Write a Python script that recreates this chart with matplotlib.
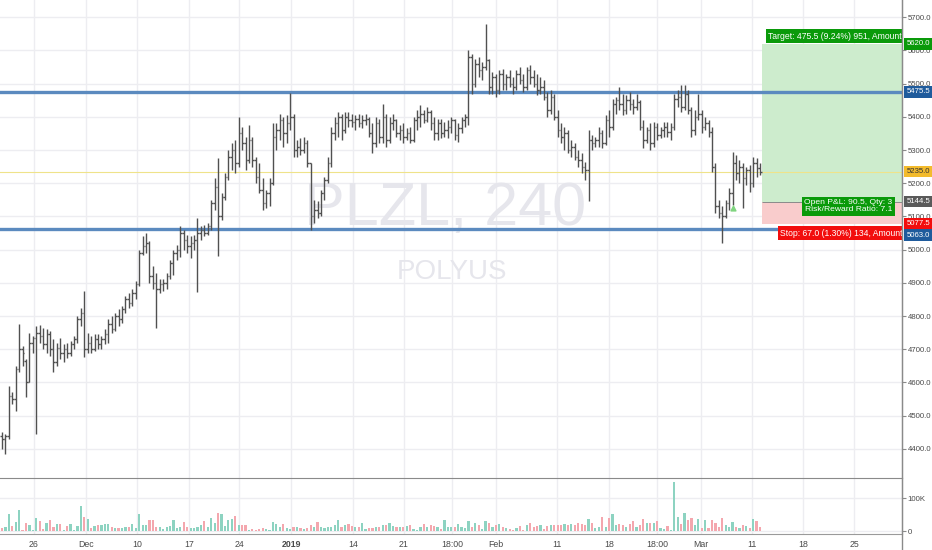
import matplotlib
matplotlib.use("Agg")
import matplotlib.pyplot as plt
import matplotlib.transforms as mtransforms
from matplotlib.patches import Rectangle
from matplotlib.lines import Line2D
import numpy as np

plt.rcParams['font.family'] = ['Liberation Sans', 'DejaVu Sans']

# PLZL 240 min bars
opens = [4440, 4430, 4440, 4560, 4550, 4640, 4700, 4665, 4600, 4720,
         4735, 4750, 4740, 4715, 4745, 4700, 4660, 4705, 4690, 4700,
         4690, 4715, 4730, 4790, 4810, 4700, 4720, 4700, 4730, 4715,
         4730, 4745, 4775, 4760, 4800, 4790, 4820, 4850, 4840, 4870,
         4895, 4990, 5010, 5020, 4920, 4900, 4880, 4895, 4900, 4920,
         4960, 4990, 5000, 5050, 5030, 5010, 5020, 5030, 5050, 5060,
         5050, 5070, 5140, 5190, 5100, 5160, 5220, 5280, 5300, 5260,
         5350, 5320, 5270, 5330, 5270, 5220, 5180, 5140, 5170, 5200,
         5340, 5360, 5390, 5350, 5380, 5400, 5300, 5310, 5300, 5320,
         5260, 5100, 5120, 5110, 5170, 5210, 5260, 5350, 5380, 5400,
         5360, 5400, 5390, 5385, 5395, 5380, 5390, 5395, 5350, 5320,
         5380, 5340, 5400, 5330, 5380, 5390, 5350, 5360, 5340, 5350,
         5330, 5390, 5400, 5410, 5390, 5415, 5380, 5350, 5380, 5350,
         5360, 5370, 5390, 5345, 5365, 5390, 5400, 5580, 5500, 5560,
         5540, 5550, 5570, 5490, 5520, 5480, 5530, 5500, 5520, 5500,
         5490, 5530, 5510, 5490, 5540, 5520, 5500, 5480, 5490, 5460,
         5420, 5460, 5400, 5360, 5340, 5350, 5300, 5310, 5280, 5270,
         5250, 5240, 5330, 5320, 5330, 5350, 5320, 5390, 5370, 5440,
         5450, 5440, 5420, 5450, 5440, 5430, 5445, 5370, 5330, 5360,
         5320, 5370, 5345, 5360, 5370, 5355, 5370, 5455, 5460, 5430,
         5470, 5420, 5360, 5400, 5410, 5370, 5380, 5355, 5250, 5130,
         5110, 5100, 5140, 5170, 5260, 5230, 5250, 5215, 5240, 5200,
         5260, 5245]
highs = [4450, 4445, 4590, 4570, 4650, 4775, 4710, 4670, 4750, 4740,
         4770, 4772, 4765, 4760, 4755, 4730, 4720, 4735, 4715, 4720,
         4725, 4740, 4800, 4825, 4875, 4750, 4740, 4745, 4745, 4740,
         4760, 4790, 4800, 4810, 4820, 4830, 4860, 4870, 4880, 4905,
         5000, 5040, 5050, 5025, 4950, 4930, 4910, 4910, 4930, 4970,
         5000, 5015, 5070, 5060, 5045, 5040, 5045, 5095, 5070, 5075,
         5080, 5150, 5215, 5276, 5170, 5230, 5300, 5320, 5330, 5400,
         5370, 5340, 5375, 5340, 5280, 5260, 5215, 5180, 5215, 5380,
         5380, 5410, 5400, 5405, 5472, 5410, 5330, 5335, 5340, 5330,
         5260, 5150, 5145, 5180, 5220, 5280, 5370, 5400, 5415, 5410,
         5415, 5415, 5410, 5405, 5410, 5405, 5410, 5400, 5380, 5400,
         5395, 5440, 5410, 5400, 5410, 5395, 5375, 5380, 5365, 5370,
         5400, 5420, 5435, 5420, 5430, 5420, 5400, 5395, 5395, 5385,
         5390, 5400, 5395, 5380, 5400, 5410, 5600, 5590, 5575, 5580,
         5565, 5680, 5575, 5535, 5530, 5540, 5545, 5530, 5540, 5520,
         5540, 5550, 5530, 5550, 5555, 5540, 5530, 5520, 5510, 5475,
         5480, 5470, 5420, 5380, 5370, 5360, 5330, 5320, 5300, 5290,
         5265, 5360, 5345, 5340, 5370, 5360, 5405, 5420, 5455, 5460,
         5490, 5470, 5465, 5475, 5455, 5470, 5450, 5390, 5370, 5380,
         5385, 5380, 5370, 5385, 5385, 5380, 5470, 5480, 5495, 5495,
         5480, 5430, 5420, 5470, 5420, 5400, 5390, 5370, 5260, 5150,
         5130, 5150, 5185, 5295, 5285, 5270, 5260, 5250, 5255, 5280,
         5275, 5260]
lows = [4400, 4385, 4430, 4535, 4515, 4630, 4650, 4555, 4600, 4690,
        4445, 4720, 4700, 4690, 4680, 4630, 4650, 4670, 4660, 4675,
        4680, 4700, 4720, 4770, 4676, 4690, 4690, 4695, 4700, 4700,
        4715, 4720, 4750, 4755, 4770, 4780, 4810, 4825, 4830, 4850,
        4890, 4985, 4990, 4900, 4880, 4765, 4870, 4875, 4880, 4910,
        4925, 4970, 4977, 5000, 4990, 4975, 5000, 4872, 5030, 5040,
        5045, 5060, 5120, 4980, 5090, 5150, 5210, 5240, 5230, 5250,
        5300, 5240, 5260, 5250, 5200, 5170, 5120, 5125, 5130, 5195,
        5300, 5330, 5310, 5320, 5360, 5280, 5280, 5285, 5290, 5250,
        5060, 5080, 5095, 5100, 5150, 5200, 5250, 5330, 5340, 5330,
        5350, 5370, 5370, 5360, 5370, 5365, 5375, 5340, 5290, 5310,
        5320, 5320, 5310, 5320, 5360, 5340, 5330, 5320, 5330, 5320,
        5325, 5360, 5370, 5380, 5385, 5360, 5330, 5330, 5335, 5340,
        5335, 5350, 5330, 5325, 5350, 5370, 5375, 5470, 5490, 5520,
        5510, 5540, 5470, 5470, 5460, 5470, 5480, 5480, 5490, 5470,
        5480, 5500, 5475, 5480, 5500, 5490, 5465, 5470, 5450, 5400,
        5410, 5390, 5340, 5320, 5300, 5290, 5280, 5270, 5250, 5230,
        5210, 5145, 5300, 5310, 5310, 5305, 5315, 5340, 5360, 5410,
        5420, 5405, 5410, 5420, 5410, 5420, 5360, 5305, 5320, 5300,
        5310, 5330, 5335, 5340, 5340, 5330, 5360, 5430, 5415, 5420,
        5410, 5340, 5345, 5390, 5350, 5360, 5340, 5235, 5110, 5095,
        5020, 5095, 5120, 5135, 5210, 5200, 5125, 5195, 5175, 5190,
        5220, 5225]
closes = [4430, 4440, 4560, 4550, 4640, 4700, 4690, 4600, 4720, 4735,
          4750, 4740, 4715, 4745, 4700, 4660, 4705, 4690, 4700, 4690,
          4715, 4730, 4790, 4810, 4700, 4720, 4700, 4730, 4715, 4730,
          4745, 4775, 4760, 4800, 4790, 4820, 4850, 4840, 4870, 4895,
          4990, 5010, 5020, 4920, 4900, 4880, 4895, 4900, 4920, 4960,
          4990, 5000, 5050, 5030, 5010, 5020, 5030, 5050, 5060, 5050,
          5070, 5140, 5190, 5100, 5160, 5220, 5280, 5300, 5260, 5350,
          5320, 5270, 5330, 5270, 5220, 5180, 5140, 5170, 5200, 5340,
          5360, 5390, 5350, 5380, 5400, 5300, 5310, 5300, 5320, 5260,
          5100, 5120, 5110, 5170, 5210, 5260, 5350, 5380, 5400, 5360,
          5400, 5390, 5385, 5395, 5380, 5390, 5395, 5350, 5320, 5380,
          5340, 5400, 5330, 5380, 5390, 5350, 5360, 5340, 5350, 5330,
          5390, 5400, 5410, 5390, 5415, 5380, 5350, 5380, 5350, 5360,
          5370, 5390, 5345, 5365, 5390, 5400, 5580, 5500, 5560, 5540,
          5550, 5570, 5490, 5520, 5480, 5530, 5500, 5520, 5500, 5490,
          5530, 5510, 5490, 5540, 5520, 5500, 5480, 5490, 5460, 5420,
          5460, 5400, 5360, 5340, 5350, 5300, 5310, 5280, 5270, 5250,
          5240, 5330, 5320, 5330, 5350, 5320, 5390, 5370, 5440, 5450,
          5440, 5420, 5450, 5440, 5430, 5445, 5370, 5330, 5360, 5320,
          5370, 5345, 5360, 5370, 5355, 5370, 5455, 5460, 5430, 5470,
          5420, 5360, 5400, 5410, 5370, 5380, 5355, 5250, 5130, 5110,
          5100, 5140, 5170, 5260, 5230, 5250, 5215, 5240, 5200, 5260,
          5245, 5235]
# volume in thousands
volume = [8, 11, 53, 15, 28, 65, 3, 23, 18, 3,
          38, 30, 5, 25, 33, 13, 20, 21, 3, 15,
          21, 3, 15, 75, 43, 35, 8, 15, 18, 18,
          20, 21, 11, 8, 8, 10, 11, 13, 21, 8,
          53, 18, 18, 33, 33, 13, 11, 5, 13, 15,
          33, 8, 13, 28, 11, 10, 8, 13, 18, 30,
          13, 38, 23, 55, 51, 15, 33, 35, 45, 18,
          18, 18, 3, 5, 3, 5, 8, 7, 3, 26,
          21, 11, 21, 8, 5, 11, 11, 8, 5, 8,
          18, 13, 26, 13, 8, 13, 11, 18, 33, 13,
          18, 20, 15, 13, 13, 23, 5, 8, 8, 11,
          13, 18, 18, 25, 15, 13, 11, 13, 15, 18,
          5, 3, 11, 21, 13, 18, 15, 11, 5, 33,
          13, 11, 13, 20, 11, 8, 30,
          13, 23, 18, 5, 31, 25, 13, 18, 21, 11,
          8, 5, 3, 8, 15, 3, 18, 23, 11, 15,
          18, 5, 15, 18, 18, 18, 18, 20, 18, 21,
          18, 23, 21, 18, 35, 25, 8, 11, 43, 13,
          38, 53, 18, 21, 18, 13, 21, 31, 11, 18,
          35, 23, 25, 23, 30, 8, 5, 15, 3,
          148, 43, 21, 56, 33, 38, 18, 35, 8, 33,
          8, 33, 23, 11, 38, 18, 13, 28, 13, 8,
          18, 15, 8, 35, 31, 11]

date_pos = [9.3, 24.5, 39.4, 54.5, 69.1, 84.3, 102.3, 117.2, 131.2, 144,
            161.8, 177, 191, 203.8, 218.7, 233.5, 248.4]
date_labels = ['26', 'Dec', '10', '17', '24', '2019', '14', '21', '18:00', 'Feb',
               '11', '18', '18:00', 'Mar', '11', '18', '25']

price_ticks = list(range(4400, 5701, 100))
resistance = 5475.5
support = 5063.0
last_price = 5235.0

# long position tool
pos_start = 221.6
pos_end = 272
entry = 5144.5
target = 5620.0
stop = 5077.5
fill_idx = 213
fill_price = 5125

idx = np.arange(len(closes))
o = np.array(opens)
c = np.array(closes)

fig = plt.figure(figsize=(9.32, 5.5), dpi=100)
ax = fig.add_axes([0, 72/550, 902/932, 478/550])
axv = fig.add_axes([0, 16/550, 902/932, 56/550], sharex=ax)

ax.set_xlim(-0.58, 262.4)
ax.set_ylim(4312, 5752)
axv.set_ylim(-9, 160.6)

grid_c = '#ededf1'
for a in (ax, axv):
    a.set_facecolor('white')
    a.grid(True, color=grid_c, lw=1, zorder=0)
    a.set_axisbelow(True)
    for s in ['left', 'top', 'bottom']:
        a.spines[s].set_visible(False)
    a.spines['right'].set_color('#8a8a8a')
axv.spines['top'].set_visible(True)
axv.spines['top'].set_color('#8a8a8a')
axv.spines['bottom'].set_visible(True)
axv.spines['bottom'].set_color('#9a9a9a')

# watermark
ax.text(0.493, 0.561, 'PLZL, 240', transform=ax.transAxes, fontsize=44,
        color='#e6e6ec', ha='center', va='center', zorder=1)
ax.text(0.501, 0.431, 'POLYUS', transform=ax.transAxes, fontsize=20,
        color='#e6e6ec', ha='center', va='center', zorder=1)

# position tool boxes
ax.add_patch(Rectangle((pos_start, entry), pos_end - pos_start, target - entry,
                       fc='#cdeccd', ec='none', zorder=2))
ax.add_patch(Rectangle((pos_start, stop), pos_end - pos_start, entry - stop,
                       fc='#f9cccc', ec='none', zorder=2))
ax.hlines(entry, pos_start, pos_end, color='#8a8a8a', lw=0.7, zorder=2)

# levels
ax.axhline(last_price, color='#efe38a', lw=0.8, zorder=2)
ax.axhline(resistance, color='#5b8abf', lw=2.4, zorder=3)
ax.axhline(support, color='#5b8abf', lw=2.4, zorder=3)

# OHLC bars
bar_c = '#505050'
ax.vlines(idx, lows, highs, color=bar_c, lw=1, zorder=4)
ax.hlines(o, idx - 0.45, idx, color=bar_c, lw=1, zorder=4)
ax.hlines(c, idx, idx + 0.45, color=bar_c, lw=1, zorder=4)

ax.scatter([fill_idx], [fill_price], marker='^', s=12, color='#7fd47f', zorder=5)

# labels of the position tool
ax.annotate('Target: 475.5 (9.24%) 951, Amount:', xy=(pos_start, target),
            xytext=(4.5, 5.5), textcoords='offset points', ha='left', va='center',
            fontsize=6.25, color='white', clip_on=True, zorder=6,
            bbox=dict(boxstyle='square,pad=0.3', fc='#0a9a0a', ec='none'))
ax.annotate('Stop: 67.0 (1.30%) 134, Amount:', xy=(pos_start, stop),
            xytext=(13, -6.8), textcoords='offset points', ha='left', va='center',
            fontsize=6.2, color='white', clip_on=True, zorder=6,
            bbox=dict(boxstyle='square,pad=0.3', fc='#f20d0d', ec='none'))
ax.text((pos_start + pos_end) / 2, 5131, 'Open P&L: 90.5, Qty: 3\nRisk/Reward Ratio: 7.1',
        ha='center', va='center', fontsize=6.1, color='white', linespacing=0.95,
        zorder=6, bbox=dict(boxstyle='square,pad=0.3', fc='#0a9a0a', ec='none'))

# volume
vcol = np.where(c >= o, '#8dd3c1', '#f4a7ae')
axv.bar(idx, volume, width=0.65, color=vcol, zorder=2)

# right price scale
lab_fs = 5.6
ax.yaxis.tick_right()
ax.set_yticks(price_ticks)
ax.set_yticklabels(['%.1f' % p for p in price_ticks])
ax.tick_params(axis='y', length=3, color='#8a8a8a', labelsize=lab_fs,
               labelcolor='#4a4a4a', pad=1.2)
ax.tick_params(axis='x', length=0, labelbottom=False)
ax.set_xticks(date_pos)

axv.yaxis.tick_right()
axv.set_yticks([0, 100])
axv.set_yticklabels(['0', '100K'])
axv.tick_params(axis='y', length=3, color='#8a8a8a', labelsize=lab_fs,
                labelcolor='#4a4a4a', pad=1.2)
axv.set_xticks(date_pos)
axv.set_xticklabels(date_labels)
axv.tick_params(axis='x', length=0, labelsize=6.3, labelcolor='#4a4a4a', pad=4)
for t in axv.get_xticklabels():
    if t.get_text() == '2019':
        t.set_fontweight('bold')

# price tags on the scale
trans = mtransforms.blended_transform_factory(ax.transAxes, ax.transData)
tags = [(target, '5620.0', '#0a9a0a', 'white', 0),
        (resistance, '5475.5', '#1f5b9c', 'white', 0),
        (last_price, '5235.0', '#f3bb2c', '#333333', 0),
        (entry, '5144.5', '#5a5a5a', 'white', 0),
        (stop, '5077.5', '#f20d0d', 'white', 0),
        (support, '5063.0', '#1f5b9c', 'white', -4.6)]
for price, txt, fc, tc, dy in tags:
    ax.annotate(txt, xy=(1.0, price), xycoords=trans, xytext=(3.2, dy),
                textcoords='offset points', ha='left', va='center', fontsize=lab_fs,
                color=tc, annotation_clip=False, zorder=7,
                bbox=dict(boxstyle='square,pad=0.3', fc=fc, ec='none'))

fig.add_artist(Line2D([902/932, 902/932], [0, 1], transform=fig.transFigure,
                      color='#8a8a8a', lw=1))

fig.savefig('out.png', dpi=100)
